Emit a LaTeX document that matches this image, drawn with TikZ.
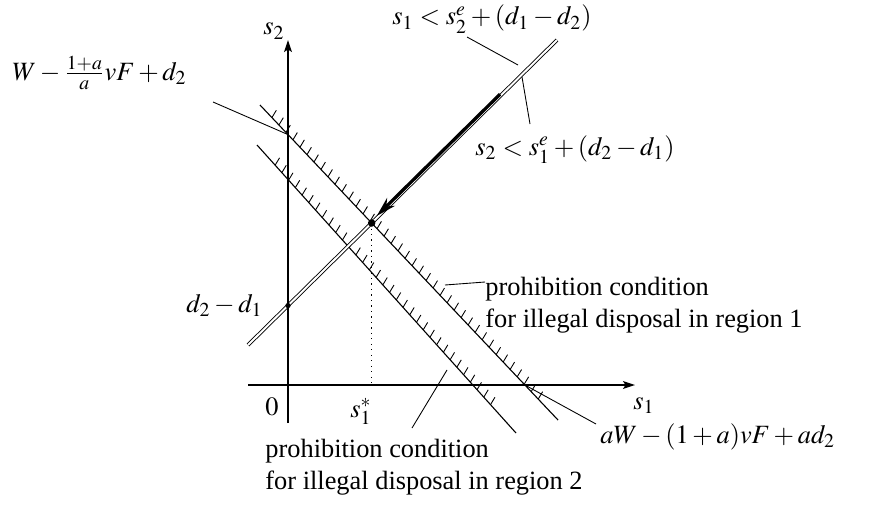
\documentclass[tikz,border=0pt]{standalone}
\usepackage{mathptmx}
\usepackage{fontspec}
\setmainfont{Liberation Serif}
\usetikzlibrary{arrows.meta, calc}

\begin{document}
\begin{tikzpicture}[x=0.455pt, y=-0.455pt,
		axis/.style={-{Stealth[length=5.5pt, width=3.6pt, inset=1.2pt]}, line width=0.5pt},
		bound/.style={line width=0.5pt},
		hatch/.style={line width=0.4pt},
		leader/.style={line width=0.4pt},
		lbl/.style={inner sep=0pt, font=\fontsize{12}{14.5}\selectfont},
		dot/.style={circle, fill=black, inner sep=0pt, minimum size=#1}
	]
	\useasboundingbox (0,0) rectangle (873,506);

	% Axes
	\coordinate (o) at (288,385);
	\draw[axis] (288,423) -- (288,40);
	\draw[axis] (248,385) -- (635,385);

	% Prohibition boundaries (hatched)
	\coordinate (r1a) at (260,105);
	\coordinate (r1b) at (558,420);
	\coordinate (r2a) at (257,145);
	\coordinate (r2b) at (516,433);
	\draw[bound] (r1a) -- (r1b);
	\draw[bound] (r2a) -- (r2b);
	\foreach \t in {0.04,0.0635,...,0.95} {
			\draw[hatch] ($(r1a)!\t!(r1b)$) -- ++(59:3.9pt);
		}
	\foreach \t in {0.07,0.096,...,0.91} {
			\draw[hatch] ($(r2a)!\t!(r2b)$) -- ++(59:3.9pt);
		}

	% Equilibrium line (double) and the move along it
	\coordinate (ea) at (248,345);
	\coordinate (eb) at (557,40);
	\draw[double, double distance=0.9pt, line width=0.4pt] (ea) -- (eb);
	\draw[line width=1.5pt, -{Stealth[length=9pt, width=5pt]}]
		($(ea)!0.819!(eb)+(-1,-1)$) -- ($(ea)!0.42!(eb)+(-1,-1)$);

	% Points
	\coordinate (star) at (intersection of ea--eb and r1a--r1b);
	\coordinate (d21) at (intersection of ea--eb and 288,0--288,500);
	\coordinate (w1) at (intersection of r1a--r1b and 288,0--288,500);
	\draw[dotted, line width=0.5pt] (star) -- (star |- o);
	\node[dot=3.4pt] (pstar) at (star) {};
	\node[dot=2.4pt] (pd21) at (d21) {};

	% Axis labels
	\node[lbl, anchor=base west] (s2lab) at (263,35) {$s_2$};
	\node[lbl, anchor=base west] (s1lab) at (633,409) {$s_1$};
	\node[lbl, anchor=base] (zero) at (272,415) {$0$};
	\node[lbl, anchor=base] (sstar) at (361,417) {$s_1^*$};
	\node[lbl, anchor=base east] (dlab) at (263,312) {$d_2 - d_1$};

	% Formula labels
	\node[lbl, anchor=base west] (wlab) at (12,80) {$W - \frac{1+a}{a}vF + d_2$};
	\node[lbl, anchor=base west] (c1lab) at (392,25) {$s_1 < s_2^e + (d_1 - d_2)$};
	\node[lbl, anchor=base west] (c2lab) at (475,155) {$s_2 < s_1^e + (d_2 - d_1)$};
	\node[lbl, anchor=base west] (awlab) at (600,443) {$aW - (1+a)vF + ad_2$};
	\node[lbl, anchor=north west, align=left] (p1lab) at (485,277) {prohibition condition\\for illegal disposal in region 1};
	\node[lbl, anchor=north west, align=left] (p2lab) at (265,439) {prohibition condition\\for illegal disposal in region 2};

	% Leaders
	\coordinate (wl) at (213,102);
	\coordinate (c1l) at (467,37);
	\coordinate (c1e) at (518,65);
	\coordinate (c2l) at (530,124);
	\coordinate (c2e) at (522,77);
	\coordinate (p1l) at (485,282);
	\coordinate (p1e) at (445,285);
	\coordinate (p2l) at (412,428);
	\coordinate (p2e) at (447,370);
	\coordinate (r1x) at (intersection of r1a--r1b and 0,385--873,385);
	\coordinate (awl) at (596,424);
	\draw[leader] (wl) -- (w1);
	\draw[leader] (c1l) -- (c1e);
	\draw[leader] (c2l) -- (c2e);
	\draw[leader] (p1l) -- (p1e);
	\draw[leader] (p2l) -- (p2e);
	\draw[leader] (r1x) -- (awl);
\end{tikzpicture}
\end{document}
